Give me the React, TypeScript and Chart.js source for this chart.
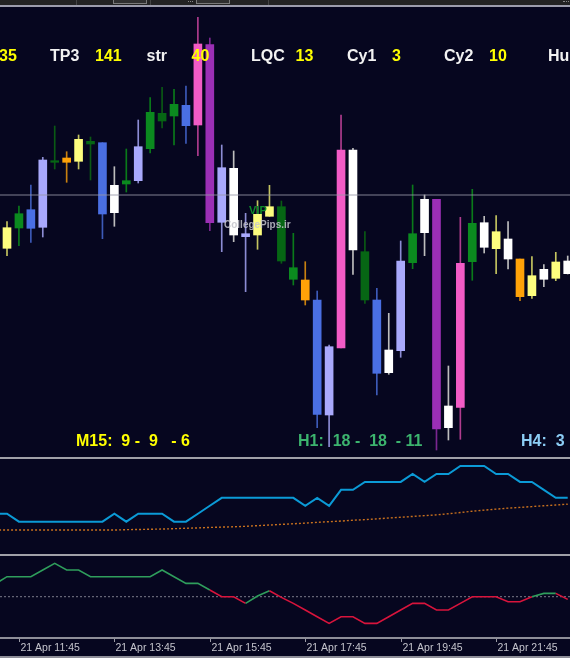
import React, { useEffect, useRef } from 'react';
import { Chart, registerables } from 'chart.js';

Chart.register(...registerables);

// ---------------- data ----------------
// candle colour class (set by the indicator that paints the candles)
const CANDLE_STYLE = [
  'yellow', 'green', 'blue', 'lavender', 'dkgreen', 'orange', 'yellow', 'dkgreen', 'blue', 'white',
  'green', 'lavender', 'green', 'dkgreen', 'green', 'blue', 'pink', 'purple', 'lavender', 'white',
  'lavender', 'yellow', 'yellow', 'dkgreen', 'green', 'orange', 'blue', 'lavender', 'pink', 'white',
  'dkgreen', 'blue', 'white', 'lavender', 'green', 'white', 'purple', 'white', 'pink', 'green',
  'white', 'yellow', 'white', 'orange', 'yellow', 'white', 'yellow', 'white',
];
// prices in points above the bottom of the price panel
const HIGH = [
  234.3, 250, 271, 298.7, 330, 304.3, 321, 319, 313.3, 289.3,
  307, 336, 358.3, 368.7, 366.7, 370, 438.7, 418, 311, 305,
  242.7, 255.3, 270.7, 255, 222.7, 194.3, 165, 111, 341, 307.7,
  224.3, 167.7, 142.7, 215, 271, 261, 256.7, 90, 238.7, 266.7,
  239.7, 240.3, 234.3, 197, 199.3, 191.3, 203.7, 200,
];
const LOW = [
  200.3, 210.3, 213.7, 219, 287, 273.7, 287, 276, 217.3, 229.7,
  264, 273, 303, 328, 311, 312.7, 300.3, 225.3, 204.3, 214.3,
  164.3, 206.7, 239.7, 192.7, 171, 151, 28.3, 9.3, 108, 181.7,
  152.7, 61, 81.7, 98.7, 187.3, 200.3, 6, 16, 16.7, 175.7,
  203, 182.3, 187, 155.3, 157.7, 169.3, 175.3, 182,
];
const BODY_HIGH = [
  228.3, 242.3, 246.3, 296, 295.3, 298, 316.7, 314.7, 313.3, 270.7,
  275.3, 309.3, 343.7, 342.7, 351.7, 350.7, 412, 411.3, 288.3, 287.7,
  222.3, 241.7, 249.3, 249.3, 188.3, 176, 156, 109.3, 306, 306,
  204.3, 156, 106, 195, 222.3, 256.7, 256.7, 50, 192.7, 232.7,
  233.3, 224.3, 217, 197, 180.3, 186.7, 194, 195,
];
const BODY_LOW = [
  207.7, 228, 227.7, 228.7, 293.7, 293.7, 294.7, 312, 242, 243.3,
  272, 275.3, 307.3, 335, 340, 330.3, 331, 233.3, 233.7, 221,
  219.3, 221, 239.7, 195, 176.7, 156, 41.7, 41, 108, 206,
  156, 82.7, 83.3, 105.3, 193.3, 223.3, 27, 28.3, 48.7, 194.3,
  208.7, 207.3, 197, 159.3, 160.3, 176.7, 177.7, 182.3,
];
const H_LINE_PRICE = 261;

// indicator values for bars -1 .. 47
const TREND = [
  1, 1, 0, 0, 0, 0, 0, 0, 0, 0, 1, 0, 1, 1, 1, 0, 0, 1, 2, 3,
  3, 3, 3, 3, 3, 3, 2, 3, 2, 4, 4, 5, 5, 5, 5, 6, 5, 6, 6, 7,
  7, 7, 6, 6, 5, 5, 4, 3, 3,
];
const TREND_MA = [
  -1.05, -1.05, -1.05, -1.05, -1.05, -1.05, -1.05, -1.05, -1.05, -1.05,
  -1.05, -1.0, -0.98, -0.95, -0.92, -0.88, -0.82, -0.78, -0.72, -0.68,
  -0.64, -0.58, -0.5, -0.42, -0.34, -0.26, -0.18, -0.08, 0, 0.08,
  0.18, 0.26, 0.36, 0.46, 0.56, 0.66, 0.76, 0.86, 1.0, 1.15,
  1.32, 1.45, 1.58, 1.7, 1.8, 1.9, 2.0, 2.1, 2.2,
];
const OSC = [
  1.9, 3, 3, 3, 4, 5, 4, 4, 3, 3, 3, 3, 3, 3, 4, 3, 2, 2, 1, 0,
  0, -1, 0.1, 0.9, -0.1, -1, -2, -3, -4, -3, -3, -4, -4, -3, -2, -1,
  -1, -2, -2, -1, 0, 0, 0, -0.75, -0.75, 0, 0.5, 0.5, -0.4,
];
const IND_FIRST_BAR = -1;

const TICK_BARS = [1, 9, 17, 25, 33, 41];
const TICK_LABELS = ['21 Apr 11:45', '21 Apr 13:45', '21 Apr 15:45', '21 Apr 17:45', '21 Apr 19:45', '21 Apr 21:45'];

const INFO_LEAD = '35';
const INFO_NAMES = ['TP3', 'str', 'LQC', 'Cy1', 'Cy2', 'Hu'];
const INFO_VALUES = ['141', '40', '13', '3', '10'];
const TF_TEXTS = ['M15:  9 -  9   - 6', 'H1:  18 -  18  - 11', 'H4:  3'];

// ---------------- styles ----------------
const W = 570;
const BAR_X0 = 7;
const BAR_STEP = 11.93;
const X_MIN = -BAR_X0 / BAR_STEP;
const X_MAX = (W - BAR_X0) / BAR_STEP;
const BG = '#06061f';

const BODY_COLORS: Record<string, string> = {
  yellow: '#fdfd7e', green: '#0b8a1f', dkgreen: '#066614', blue: '#4a6fe3', lavender: '#a9a9fc',
  white: '#ffffff', orange: '#ffa208', pink: '#f25bc6', purple: '#9b2fb5',
};
const WICK_COLORS: Record<string, string> = {
  yellow: '#c4c460', green: '#0a7a1a', dkgreen: '#0a5a14', blue: '#3d5ab8', lavender: '#8c8cd4',
  white: '#bdbdbd', orange: '#c88010', pink: '#b03c8e', purple: '#7a2690',
};

const baseOptions = (ymin: number, ymax: number, padBottom = 0) => ({
  responsive: false,
  animation: false,
  events: [],
  layout: { padding: { left: 0, right: 0, top: 0, bottom: padBottom } },
  plugins: { legend: { display: false }, tooltip: { enabled: false } },
  elements: { point: { radius: 0 }, line: { tension: 0 } },
  scales: {
    x: {
      type: 'linear', min: X_MIN, max: X_MAX, display: false, offset: false, bounds: 'ticks',
      grid: { offset: false },
    },
    y: { type: 'linear', min: ymin, max: ymax, display: false },
  },
});

const indPoints = (vals: number[]) => vals.map((v, k) => ({ x: IND_FIRST_BAR + k, y: v }));

const mainConfig = () => ({
  type: 'bar',
  data: {
    datasets: [
      {
        type: 'line',
        data: [{ x: X_MIN, y: H_LINE_PRICE }, { x: X_MAX, y: H_LINE_PRICE }],
        borderColor: 'rgba(150,150,168,0.85)',
        borderWidth: 1,
        pointRadius: 0,
      },
      {
        type: 'bar',
        data: BODY_HIGH.map((h, i) => ({ x: i, y: [BODY_LOW[i], h] })),
        backgroundColor: CANDLE_STYLE.map((s) => BODY_COLORS[s]),
        borderWidth: 0,
        grouped: false,
        barThickness: 8,
        maxBarThickness: 8,
      },
      {
        type: 'bar',
        data: HIGH.map((h, i) => ({ x: i, y: [LOW[i], h] })),
        backgroundColor: CANDLE_STYLE.map((s) => WICK_COLORS[s]),
        borderWidth: 0,
        grouped: false,
        barThickness: 1,
        maxBarThickness: 1,
      },
    ],
  },
  options: baseOptions(0, 449),
});

const ind1Config = () => ({
  type: 'line',
  data: {
    datasets: [
      { data: indPoints(TREND), borderColor: '#0b9ad6', borderWidth: 2, pointRadius: 0 },
      { data: indPoints(TREND_MA), borderColor: '#c8701e', borderWidth: 1.4, borderDash: [2, 2], pointRadius: 0 },
    ],
  },
  options: baseOptions(-4.06, 7.88),
});

const OSC_UP = '#2f9e5c';
const OSC_DOWN = '#d8143c';

const timeAxisPlugin = {
  id: 'timeAxis',
  afterDraw(chart: any) {
    const { ctx, chartArea, scales } = chart;
    ctx.save();
    ctx.font = '10.5px "Liberation Sans", Arial, sans-serif';
    ctx.fillStyle = '#c4c4cc';
    ctx.strokeStyle = '#9a9aa4';
    ctx.lineWidth = 1;
    TICK_BARS.forEach((b, k) => {
      const x = Math.round(scales.x.getPixelForValue(b)) + 0.5;
      ctx.beginPath();
      ctx.moveTo(x, chartArea.bottom + 2);
      ctx.lineTo(x, chartArea.bottom + 5);
      ctx.stroke();
      ctx.fillText(TICK_LABELS[k], x + 1, chartArea.bottom + 14);
    });
    ctx.restore();
  },
};

const ind2Config = () => ({
  type: 'line',
  data: {
    datasets: [
      {
        data: indPoints(OSC),
        borderColor: OSC_UP,
        borderWidth: 1.6,
        pointRadius: 0,
        segment: { borderColor: (c: any) => (c.p1.parsed.y > 0 ? OSC_UP : OSC_DOWN) },
      },
      {
        data: [{ x: X_MIN, y: 0 }, { x: X_MAX, y: 0 }],
        borderColor: '#7c7c8a',
        borderWidth: 1,
        borderDash: [2, 2],
        pointRadius: 0,
      },
    ],
  },
  options: baseOptions(-6.04, 6.1, 21),
  plugins: [timeAxisPlugin],
});

function ChartBox({ top, height, config }: { top: number; height: number; config: () => any }) {
  const ref = useRef<HTMLCanvasElement>(null);
  useEffect(() => {
    const chart = new Chart(ref.current as HTMLCanvasElement, config());
    return () => chart.destroy();
  }, []);
  return (
    <canvas
      ref={ref}
      width={W}
      height={height}
      style={{ position: 'absolute', left: 0, top, width: W, height, display: 'block' }}
    />
  );
}

const FONT = '"Liberation Sans", Arial, sans-serif';

function Txt({ x, y, size, color, children }: { x: number; y: number; size: number; color: string; children: any }) {
  return (
    <div
      style={{
        position: 'absolute', left: x, top: y, fontFamily: FONT, fontWeight: 'bold', fontSize: size,
        lineHeight: `${size}px`, color, whiteSpace: 'pre',
      }}
    >
      {children}
    </div>
  );
}

export default function App() {
  const YELLOW = '#ffff00';
  const WHITE = '#f2f2f2';
  const nameX = [50, 146.5, 251, 347, 444, 548];
  const valueX = [95, 191.5, 295.5, 392, 489];
  const tfX = [76, 298, 521];
  const tfColors = ['#ffff00', '#3cb46e', '#8ccdf5'];
  const line = (top: number, h: number, c: string) => (
    <div style={{ position: 'absolute', left: 0, top, width: W, height: h, background: c }} />
  );
  const btn = (left: number, width: number) => (
    <div
      style={{
        position: 'absolute', left, top: -1, width, height: 5, boxSizing: 'border-box',
        border: '1px solid #7a7a7a', background: '#303030',
      }}
    />
  );
  const sep = (left: number) => (
    <div style={{ position: 'absolute', left, top: 0, width: 1, height: 5, background: '#444' }} />
  );
  return (
    <div
      style={{
        position: 'fixed', left: 0, top: 0, width: W, height: 658, background: BG, overflow: 'hidden',
      }}
    >
      {line(0, 5, '#232323')}
      {btn(113, 34)}
      {btn(196, 34)}
      {sep(76)}
      {sep(150)}
      {sep(268)}
      <div style={{ position: 'absolute', left: 188, top: 1, width: 5, height: 3, borderTop: '1px dotted #888', borderBottom: '1px dotted #888' }} />
      <div style={{ position: 'absolute', left: 563, top: 1, width: 6, height: 3, borderTop: '1px dotted #888', borderBottom: '1px dotted #888' }} />
      {line(5, 2, '#9c9cac')}

      <ChartBox top={7} height={449} config={mainConfig} />
      <ChartBox top={459} height={95} config={ind1Config} />
      <ChartBox top={556} height={102} config={ind2Config} />

      {line(457, 2, '#a0a0a8')}
      {line(554, 2, '#a0a0a8')}
      {line(637, 2, '#8e8e98')}
      {line(656, 2, '#8e8e98')}

      <Txt x={-1} y={47.5} size={16} color={YELLOW}>{INFO_LEAD}</Txt>
      {INFO_NAMES.map((t, k) => (
        <Txt key={'n' + k} x={nameX[k]} y={47.5} size={16} color={WHITE}>{t}</Txt>
      ))}
      {INFO_VALUES.map((t, k) => (
        <Txt key={'v' + k} x={valueX[k]} y={47.5} size={16} color={YELLOW}>{t}</Txt>
      ))}
      {TF_TEXTS.map((t, k) => (
        <Txt key={'tf' + k} x={tfX[k]} y={433.2} size={16} color={tfColors[k]}>{t}</Txt>
      ))}
      <Txt x={249} y={204.7} size={11} color="#0d8a2a">VIP</Txt>
      <Txt x={224} y={220.4} size={10} color="rgba(196,196,204,0.85)">CollegePips.ir</Txt>
    </div>
  );
}
